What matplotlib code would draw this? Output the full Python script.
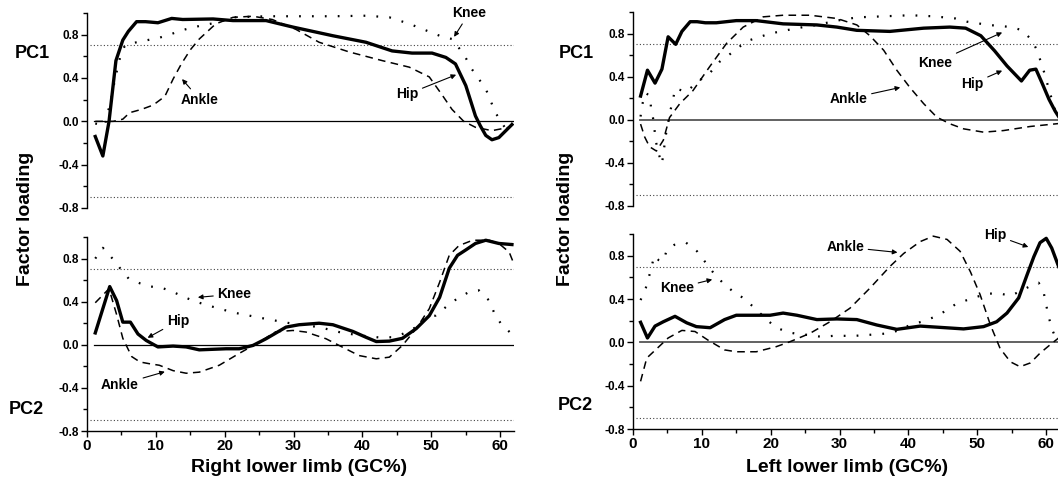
import matplotlib
matplotlib.use("Agg")
import matplotlib.pyplot as plt
from matplotlib.ticker import MultipleLocator, FixedLocator

plt.rcParams['font.family'] = ['Liberation Sans', 'DejaVu Sans']
plt.rcParams['font.weight'] = 'bold'

# ---------------- Right lower limb, PC1 ----------------
r_pc1_hip_x = [1.2, 2.3, 3.2, 4.2, 5.2, 6.0, 7.2, 8.5, 10.3, 12.3, 13.9, 18.3, 21.2, 26.0, 29.9, 35.7, 40.5,
               44.3, 47.2, 50.1, 52.1, 53.5, 55.0, 56.4, 57.1, 57.9, 58.8, 59.8, 61.7]
r_pc1_hip_y = [-0.14, -0.32, 0.0, 0.56, 0.75, 0.83, 0.92, 0.92, 0.91, 0.95, 0.94, 0.945, 0.93, 0.93, 0.87, 0.79, 0.73,
               0.65, 0.63, 0.63, 0.59, 0.53, 0.33, 0.05, -0.04, -0.13, -0.17, -0.15, -0.03]
r_pc1_knee_x = [1.2, 2.6, 3.0, 3.4, 4.1, 4.8, 5.5, 7.2, 8.8, 10.4, 12.0, 13.7, 16.3, 18.7, 21.2, 26.0, 30.8,
                35.7, 40.5, 43.9, 46.8, 49.2, 51.6, 53.0, 54.7, 55.9, 56.9, 57.9, 59.3, 60.8, 61.7]
r_pc1_knee_y = [-0.02, -0.04, 0.08, 0.17, 0.40, 0.59, 0.70, 0.73, 0.75, 0.77, 0.80, 0.84, 0.88, 0.91, 0.96, 0.97, 0.97,
                0.97, 0.975, 0.96, 0.90, 0.84, 0.78, 0.76, 0.62, 0.48, 0.39, 0.30, 0.08, -0.07, -0.01]
r_pc1_ankle_x = [1.2, 3.8, 5.2, 6.2, 7.9, 9.6, 11.3, 12.5, 13.7, 15.0, 16.3, 18.7, 21.2, 24.1, 26.9, 30.3, 33.7,
                 38.1, 42.9, 46.8, 49.7, 51.6, 53.0, 54.7, 56.4, 58.8, 61.3, 61.9]
r_pc1_ankle_y = [0.0, 0.0, 0.02, 0.08, 0.11, 0.15, 0.23, 0.39, 0.53, 0.66, 0.76, 0.90, 0.96, 0.97, 0.94, 0.85, 0.73,
                 0.64, 0.56, 0.50, 0.41, 0.24, 0.11, 0.0, -0.055, -0.086, -0.055, -0.025]

# ---------------- Right lower limb, PC2 ----------------
r_pc2_hip_x = [1.2, 3.3, 4.3, 5.2, 6.3, 7.4, 8.6, 10.3, 12.5, 14.4, 16.3, 20.2, 22.1, 24.1, 26.0, 28.9, 30.8,
               33.7, 35.7, 38.6, 40.5, 42.0, 43.9, 45.8, 47.8, 49.7, 51.2, 52.6, 53.8, 55.0, 56.4, 57.9, 59.8, 61.7]
r_pc2_hip_y = [0.11, 0.54, 0.41, 0.21, 0.21, 0.10, 0.04, -0.02, -0.012, -0.02, -0.047, -0.037, -0.037, -0.006,
               0.056, 0.164, 0.186, 0.20, 0.186, 0.124, 0.07, 0.03, 0.034, 0.06, 0.15, 0.27, 0.44, 0.71, 0.83,
               0.88, 0.94, 0.97, 0.94, 0.93]
r_pc2_knee_x = [1.2, 2.3, 3.7, 4.8, 6.1, 7.7, 9.3, 10.8, 12.5, 14.2, 15.8, 17.3, 21.2, 26.0, 29.9, 33.7, 36.6,
                39.5, 42.4, 44.3, 45.8, 47.8, 49.2, 50.6, 52.1, 54.0, 55.5, 56.9, 58.4, 59.1, 60.1, 61.5]
r_pc2_knee_y = [0.80, 0.90, 0.80, 0.71, 0.61, 0.57, 0.54, 0.53, 0.49, 0.44, 0.40, 0.37, 0.30, 0.24, 0.195, 0.164,
                0.118, 0.087, 0.068, 0.07, 0.10, 0.164, 0.26, 0.27, 0.35, 0.44, 0.49, 0.505, 0.41, 0.30, 0.195, 0.11]
r_pc2_ankle_x = [1.2, 3.2, 4.3, 5.2, 6.5, 7.7, 9.0, 10.5, 12.5, 14.4, 16.3, 19.2, 22.1, 24.6, 27.4, 29.9, 31.8,
                 34.7, 36.6, 39.5, 42.0, 43.9, 45.8, 47.8, 49.7, 51.2, 52.6, 54.0, 56.0, 58.4, 59.8, 61.3, 61.8]
r_pc2_ankle_y = [0.39, 0.52, 0.28, 0.06, -0.11, -0.16, -0.175, -0.19, -0.24, -0.264, -0.254, -0.19, -0.08, 0.01,
                 0.12, 0.133, 0.118, 0.056, -0.006, -0.1, -0.13, -0.115, -0.006, 0.15, 0.335, 0.58, 0.83, 0.92,
                 0.97, 0.97, 0.94, 0.86, 0.78]

# ---------------- Left lower limb, PC1 ----------------
l_pc1_hip_x = [1.1, 2.1, 3.2, 4.2, 5.1, 6.2, 7.1, 8.3, 9.3, 10.5, 12.1, 15.0, 17.9, 21.8, 26.7, 29.6, 32.5, 37.3,
               42.2, 46.0, 48.3, 50.5, 52.5, 54.3, 55.5, 56.4, 57.6, 58.5, 59.4, 60.4, 61.3, 61.9]
l_pc1_hip_y = [0.22, 0.46, 0.34, 0.47, 0.77, 0.70, 0.82, 0.91, 0.91, 0.90, 0.90, 0.92, 0.92, 0.89, 0.88, 0.86,
               0.83, 0.82, 0.85, 0.86, 0.85, 0.78, 0.64, 0.50, 0.42, 0.36, 0.46, 0.47, 0.34, 0.19, 0.08, 0.02]
l_pc1_knee_x = [1.1, 1.3, 1.8, 2.5, 2.6, 2.9, 3.1, 3.3, 3.6, 4.2, 4.8, 5.1, 5.4, 5.8, 6.1, 7.8, 9.3, 11.1, 12.6,
                14.1, 15.5, 17.0, 19.9, 23.8, 26.7, 29.6, 32.5, 36.4, 40.3, 43.6, 46.8, 48.5, 51.6, 55.0, 56.5,
                57.9, 58.7, 59.7, 60.4, 61.6]
l_pc1_knee_y = [0.03, 0.13, 0.25, 0.22, 0.12, 0.02, -0.08, -0.19, -0.29, -0.41, -0.13, -0.03, 0.08, 0.18, 0.29,
                0.26, 0.35, 0.43, 0.54, 0.61, 0.68, 0.74, 0.80, 0.85, 0.88, 0.92, 0.95, 0.96, 0.97, 0.96, 0.94,
                0.91, 0.88, 0.86, 0.83, 0.74, 0.64, 0.44, 0.28, 0.02]
l_pc1_ankle_x = [1.1, 1.7, 2.4, 3.4, 4.4, 5.3, 6.8, 8.7, 11.1, 13.6, 16.0, 18.9, 21.8, 25.7, 29.6, 32.5, 34.4,
                 36.4, 38.3, 40.2, 42.2, 44.1, 46.0, 48.0, 50.9, 53.8, 57.7, 61.8]
l_pc1_ankle_y = [-0.04, -0.16, -0.25, -0.29, -0.19, 0.02, 0.15, 0.27, 0.49, 0.71, 0.86, 0.955, 0.97, 0.97, 0.94,
                 0.88, 0.78, 0.645, 0.46, 0.30, 0.15, 0.025, -0.037, -0.084, -0.115, -0.10, -0.062, -0.035]

# ---------------- Left lower limb, PC2 ----------------
l_pc2_hip_x = [1.1, 2.1, 3.2, 4.4, 6.1, 7.8, 9.2, 11.2, 13.3, 15.0, 17.9, 19.9, 21.8, 23.8, 26.7, 29.6, 32.5,
               35.4, 38.3, 41.7, 45.1, 48.0, 50.9, 52.8, 54.3, 56.0, 57.2, 58.2, 59.1, 60.0, 60.8, 61.8]
l_pc2_hip_y = [0.185, 0.04, 0.15, 0.19, 0.24, 0.18, 0.145, 0.135, 0.21, 0.25, 0.25, 0.25, 0.27, 0.25, 0.21,
               0.216, 0.21, 0.16, 0.12, 0.15, 0.136, 0.124, 0.145, 0.19, 0.27, 0.41, 0.62, 0.79, 0.92, 0.96,
               0.87, 0.70]
l_pc2_knee_x = [1.1, 1.85, 2.3, 3.1, 3.7, 4.4, 4.9, 6.0, 7.7, 9.3, 10.5, 11.7, 13.1, 14.7, 16.0, 17.7, 19.4,
                20.8, 22.5, 24.2, 25.7, 27.4, 29.1, 32.2, 35.4, 37.1, 38.8, 40.2, 41.9, 43.6, 45.1, 46.8, 48.5,
                49.9, 51.6, 53.3, 54.8, 56.2, 57.7, 58.9, 59.6, 60.3, 60.8, 61.6]
l_pc2_knee_y = [0.39, 0.50, 0.60, 0.80, 0.76, 0.75, 0.85, 0.90, 0.92, 0.84, 0.74, 0.64, 0.545, 0.46, 0.41,
                0.315, 0.21, 0.136, 0.093, 0.074, 0.068, 0.05, 0.06, 0.06, 0.074, 0.083, 0.114, 0.16, 0.19,
                0.23, 0.28, 0.35, 0.39, 0.42, 0.45, 0.45, 0.43, 0.47, 0.52, 0.55, 0.47, 0.25, 0.13, 0.0]
l_pc2_ankle_x = [1.1, 2.0, 3.6, 5.1, 7.1, 9.0, 10.9, 13.3, 15.0, 17.9, 20.8, 22.8, 25.7, 28.6, 31.5, 34.4,
                 37.3, 39.3, 41.7, 43.6, 45.6, 47.5, 49.0, 50.4, 51.9, 53.3, 54.8, 56.2, 57.7, 59.1, 60.8, 61.8]
l_pc2_ankle_y = [-0.36, -0.145, -0.05, 0.04, 0.11, 0.10, 0.02, -0.07, -0.087, -0.087, -0.04, 0.006, 0.083,
                 0.19, 0.315, 0.50, 0.70, 0.82, 0.93, 0.98, 0.95, 0.84, 0.65, 0.44, 0.16, -0.056, -0.18,
                 -0.225, -0.19, -0.10, -0.01, 0.04]

threshold = 0.7
y_major = [-0.8, -0.4, 0.0, 0.4, 0.8]
y_minor = [-0.6, -0.2, 0.2, 0.6, 1.0]
x_major = [0, 10, 20, 30, 40, 50, 60]

W, H = 1058, 487
fig = plt.figure(figsize=(W / 100, H / 100), dpi=100)


def px_axes(x0, x1, ytop, ybot):
    return fig.add_axes([x0 / W, 1 - ybot / H, (x1 - x0) / W, (ybot - ytop) / H])


axes = {
    'r1': px_axes(87, 514, 13, 208),
    'r2': px_axes(87, 514, 237, 431),
    'l1': px_axes(633, 1060, 12, 206),
    'l2': px_axes(633, 1060, 234, 429),
}

series = {
    'r1': (r_pc1_hip_x, r_pc1_hip_y, r_pc1_knee_x, r_pc1_knee_y, r_pc1_ankle_x, r_pc1_ankle_y),
    'r2': (r_pc2_hip_x, r_pc2_hip_y, r_pc2_knee_x, r_pc2_knee_y, r_pc2_ankle_x, r_pc2_ankle_y),
    'l1': (l_pc1_hip_x, l_pc1_hip_y, l_pc1_knee_x, l_pc1_knee_y, l_pc1_ankle_x, l_pc1_ankle_y),
    'l2': (l_pc2_hip_x, l_pc2_hip_y, l_pc2_knee_x, l_pc2_knee_y, l_pc2_ankle_x, l_pc2_ankle_y),
}

for key, ax in axes.items():
    hx, hy, kx, ky, ax_, ay = series[key]
    zc = 'black' if key.startswith('r') else '#555555'
    zw = 0.9 if key.startswith('r') else 1.3
    ax.plot([1, 62], [0, 0], color=zc, lw=zw, zorder=1)
    for t in (threshold, -threshold):
        ax.plot([0.5, 62], [t, t], color='#444444', lw=0.8, ls=(0, (1, 2)), zorder=1)
    ax.plot(ax_, ay, color='black', lw=1.1, ls=(0, (5, 3.5)), zorder=2)
    ax.plot(kx, ky, color='black', lw=1.6, ls=(0, (0.8, 5)), zorder=2)
    ax.plot(hx, hy, color='black', lw=2.4, zorder=3, solid_joinstyle='round')
    ax.set_xlim(0, 62)
    ax.set_ylim(-0.8, 1.0)
    for s in ('top', 'right'):
        ax.spines[s].set_visible(False)
    ax.spines['left'].set_linewidth(1.0)
    ax.yaxis.set_major_locator(FixedLocator(y_major))
    ax.yaxis.set_minor_locator(FixedLocator(y_minor))
    ax.set_yticklabels(['%.1f' % v for v in y_major], fontsize=8.5, fontweight='bold')
    ax.tick_params(axis='y', which='major', direction='out', length=4, width=1, pad=2)
    ax.tick_params(axis='y', which='minor', direction='out', length=3, width=1)
    if key.endswith('1'):
        ax.spines['bottom'].set_visible(False)
        ax.tick_params(axis='x', which='both', bottom=False, labelbottom=False)
    else:
        ax.spines['bottom'].set_linewidth(1.0)
        ax.xaxis.set_major_locator(FixedLocator(x_major))
        ax.xaxis.set_minor_locator(MultipleLocator(5))
        ax.set_xticklabels([str(v) for v in x_major], fontsize=11, fontweight='bold')
        ax.tick_params(axis='x', which='major', direction='out', length=4, width=1, pad=2)
        ax.tick_params(axis='x', which='minor', direction='out', length=3, width=1)

arrow = dict(arrowstyle='-|>', lw=0.8, color='black', mutation_scale=7, shrinkA=1, shrinkB=0)
afs = 10


def note(ax, txt, tip, pos):
    ax.annotate(txt, xy=tip, xytext=pos, fontsize=afs, fontweight='bold', ha='center', va='center',
                arrowprops=arrow, annotation_clip=False, zorder=5)


note(axes['r1'], 'Knee', (53.3, 0.78), (55.5, 1.00))
note(axes['r1'], 'Ankle', (13.8, 0.39), (16.4, 0.20))
note(axes['r1'], 'Hip', (53.6, 0.43), (46.5, 0.25))

note(axes['r2'], 'Knee', (16.1, 0.44), (21.4, 0.47))
note(axes['r2'], 'Hip', (8.8, 0.065), (13.2, 0.22))
note(axes['r2'], 'Ankle', (11.3, -0.25), (4.8, -0.37))

note(axes['l1'], 'Knee', (53.6, 0.81), (43.9, 0.53))
note(axes['l1'], 'Hip', (53.6, 0.456), (49.3, 0.335))
note(axes['l1'], 'Ankle', (38.8, 0.30), (31.3, 0.195))

note(axes['l2'], 'Hip', (57.4, 0.88), (52.6, 0.99))
note(axes['l2'], 'Ankle', (38.4, 0.83), (30.8, 0.88))
note(axes['l2'], 'Knee', (11.5, 0.58), (6.4, 0.50))


def ftext(x, y, s, **kw):
    fig.text(x / W, 1 - y / H, s, ha='center', va='center', fontweight='bold', **kw)


ftext(32, 54, 'PC1', fontsize=13)
ftext(26, 410, 'PC2', fontsize=13)
ftext(576, 53, 'PC1', fontsize=13)
ftext(575, 406, 'PC2', fontsize=13)
ftext(25, 219, 'Factor loading', fontsize=14, rotation=90)
ftext(566, 219, 'Factor loading', fontsize=14, rotation=90)
ftext(299, 468, 'Right lower limb (GC%)', fontsize=14)
ftext(847, 468, 'Left lower limb (GC%)', fontsize=14)

fig.savefig('out.png', dpi=100)
